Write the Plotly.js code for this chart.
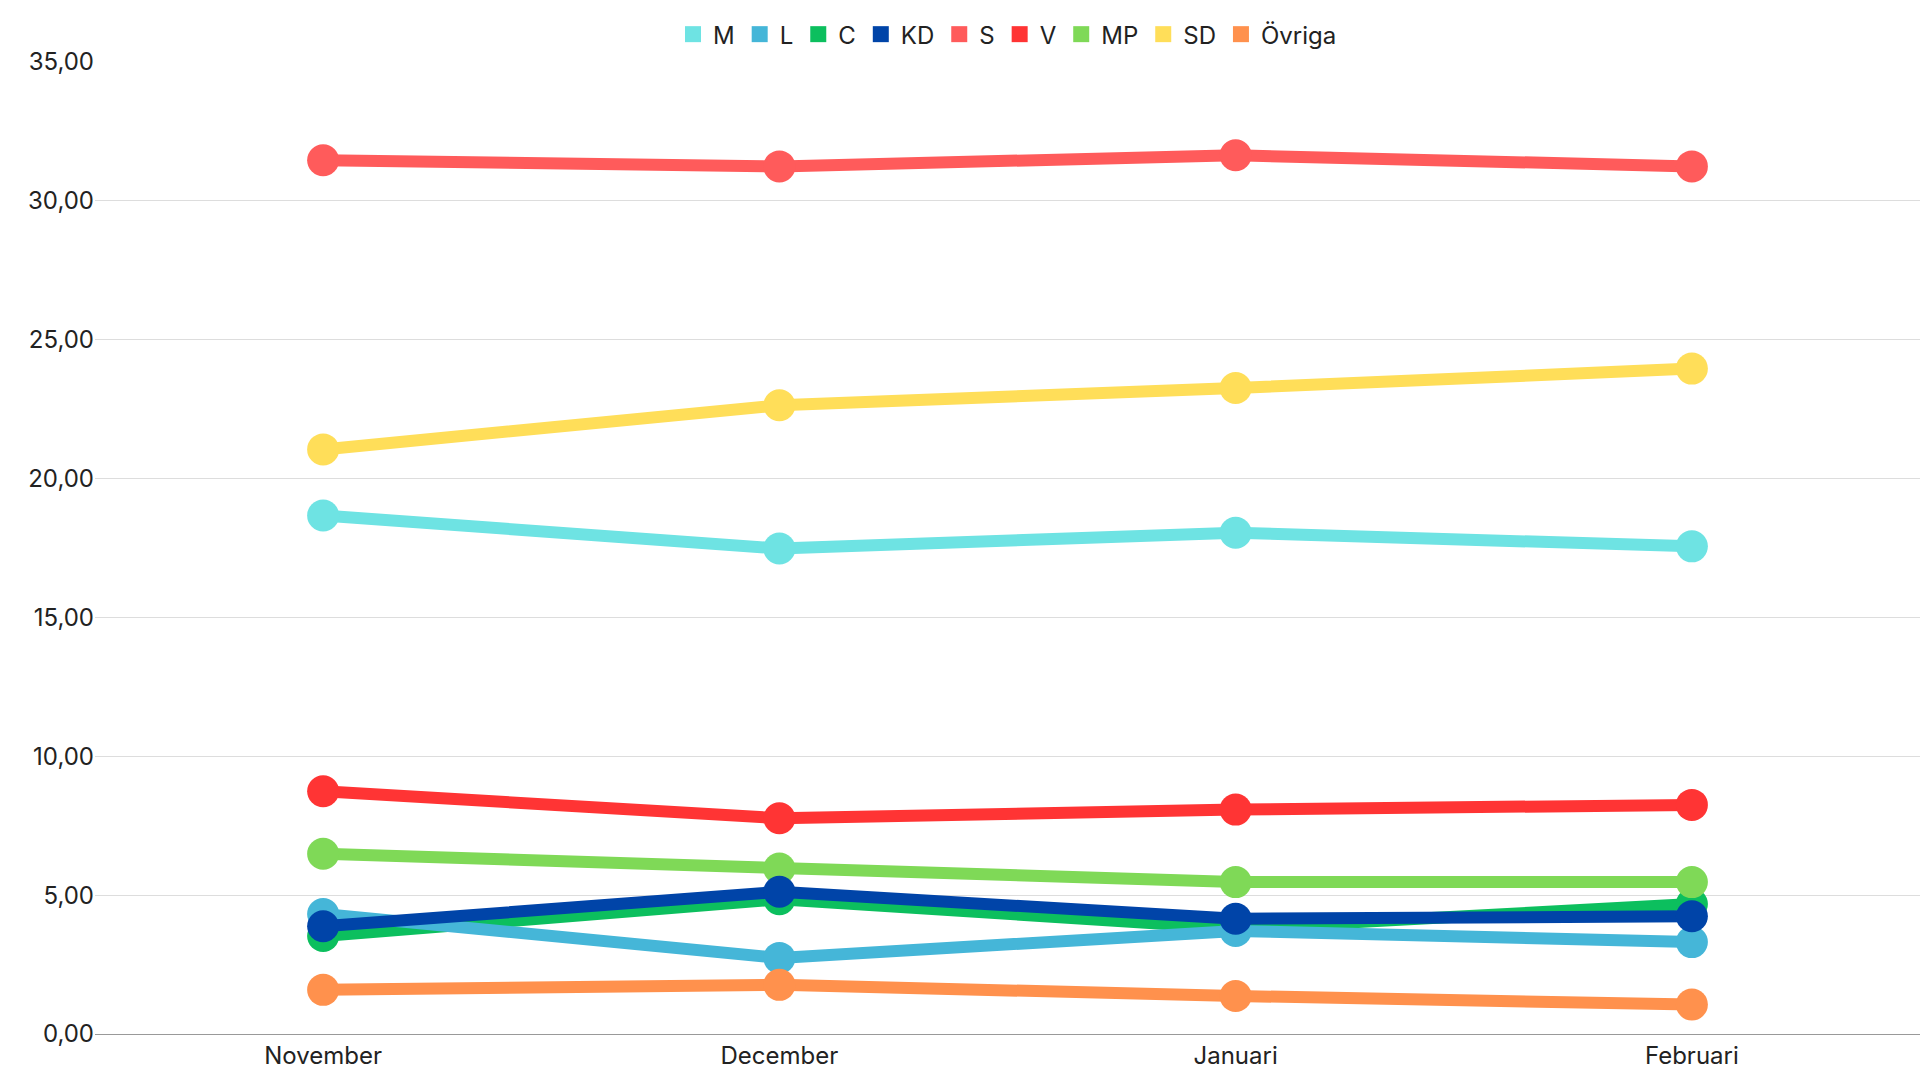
<!DOCTYPE html>
<html>
<head>
<meta charset="utf-8">
<script src="https://cdn.plot.ly/plotly-3.0.1.min.js"></script>
<style>html,body{margin:0;padding:0;background:#fff}</style>
</head>
<body>
<div id="chart" style="width:1920px;height:1080px"></div>
<script>
var months = ["November", "December", "Januari", "Februari"];
var parties = ["M", "L", "C", "KD", "S", "V", "MP", "SD", "Övriga"];
var colors = ["#6ee3e3", "#45b6d8", "#0cbf5e", "#0044a8", "#ff5b5b", "#ff3434", "#7fd957", "#ffde59", "#ff914d"];

var M = [18.67, 17.48, 18.05, 17.56];
var L = [4.32, 2.74, 3.71, 3.31];
var C = [3.53, 4.85, 3.80, 4.68];
var KD = [3.88, 5.12, 4.15, 4.24];
var S = [31.46, 31.24, 31.64, 31.24];
var V = [8.74, 7.77, 8.08, 8.25];
var MP = [6.49, 5.96, 5.47, 5.47];
var SD = [21.05, 22.64, 23.26, 23.96];
var Ovriga = [1.59, 1.77, 1.37, 1.06];

var values = [M, L, C, KD, S, V, MP, SD, Ovriga];
// draw order so KD sits on top of C and L like the reference
var order = [0, 2, 1, 4, 5, 6, 7, 8, 3];

var data = [];
order.forEach(function(i){
    data.push({
        x: months, y: values[i], name: parties[i], type: 'scatter', mode: 'lines+markers',
        line: {color: colors[i], width: 12},
        marker: {color: colors[i], size: 32},
        showlegend: false
    });
});
// square legend swatches
parties.forEach(function(p, i){
    data.push({
        x: [null], y: [null], name: p, type: 'scatter', mode: 'markers',
        marker: {color: colors[i], size: 30, symbol: 'square'}
    });
});

var layout = {
    width: 1920, height: 1080,
    margin: {l: 95, r: 0, t: 62, b: 46},
    font: {family: 'Inter, Roboto, sans-serif', size: 24, color: '#222'},
    separators: ',.',
    showlegend: true,
    legend: {orientation: 'h', x: 0.5, xanchor: 'center', yref: 'container', y: 0.968, yanchor: 'middle',
             font: {size: 24}, itemwidth: 30, traceorder: 'normal'},
    xaxis: {range: [-0.5, 3.5], showgrid: false, showline: true, linecolor: '#999', linewidth: 1, ticks: '', tickfont: {size: 24}},
    yaxis: {range: [0, 35], dtick: 5, tickformat: '.2f', gridcolor: '#ddd', zeroline: false,
            ticks: '', tickfont: {size: 24}},
    plot_bgcolor: '#fff', paper_bgcolor: '#fff'
};

Plotly.newPlot('chart', data, layout, {displayModeBar: false});
</script>
</body>
</html>
